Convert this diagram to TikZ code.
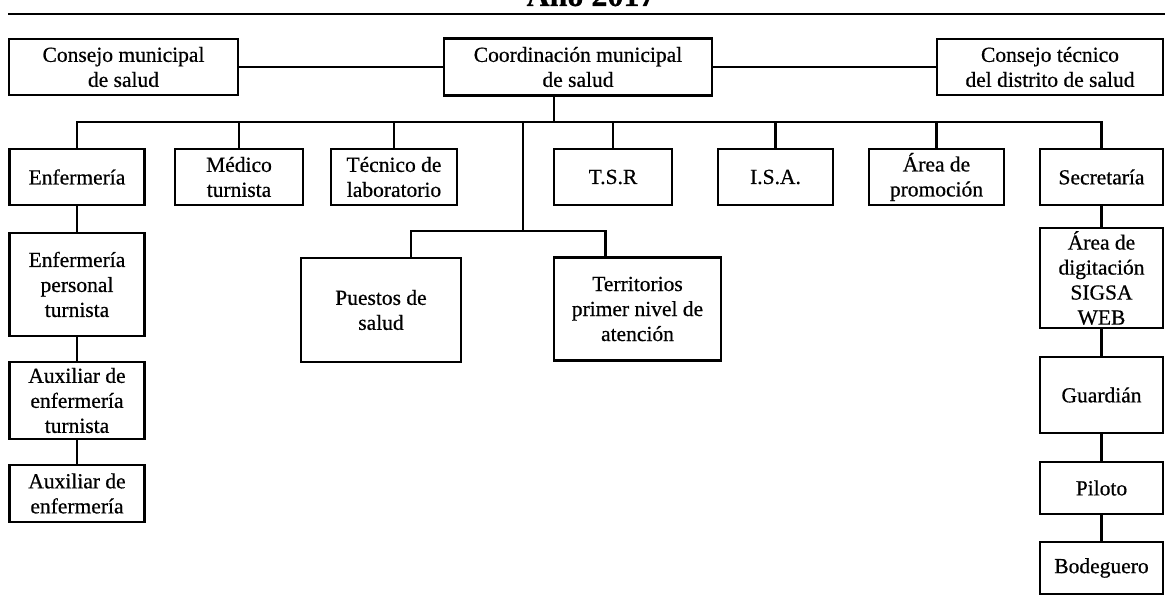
\documentclass[tikz,border=0pt]{standalone}
\usepackage{fontspec}
\setmainfont{Liberation Serif}[FakeBold=0.6]
\tikzset{
    caja/.style={draw, line width=2.8pt, align=center, inner sep=1pt, font=\fontsize{21.5}{25}\selectfont},
    linea/.style={line width=2.8pt}
}
\begin{document}
\begin{tikzpicture}[x=1pt,y=-1pt]
    \useasboundingbox (0,0) rectangle (1165,596);
    \clip (0,0) rectangle (1165,596);
    \node[anchor=base, inner sep=0pt, font=\bfseries\fontsize{32}{36}\selectfont] (titulo) at (591,6) {Año 2017};
    \draw[line width=1.8pt] (8,14) -- (1165,14);

    \node[caja, minimum width=229, minimum height=56] (cms) at (123.5,67) {Consejo municipal\\de salud};
    \node[caja, minimum width=268, minimum height=57] (cord) at (578,67) {Coordinación municipal\\de salud};
    \node[caja, minimum width=226, minimum height=56] (ctd) at (1050,67) {Consejo técnico\\del distrito de salud};
    \draw[linea] (cms) -- (cord);
    \draw[linea] (cord) -- (ctd);

    \coordinate (bus) at (554,122);
    \node[caja, minimum width=135, minimum height=56] (enf) at (77,177) {Enfermería};
    \node[caja, minimum width=128, minimum height=56] (med) at (239,177) {Médico\\turnista};
    \node[caja, minimum width=126, minimum height=56] (tec) at (394,177) {Técnico de\\laboratorio};
    \node[caja, minimum width=118, minimum height=56] (tsr) at (613,177) {T.S.R};
    \node[caja, minimum width=115, minimum height=56] (isa) at (775.5,177) {I.S.A.};
    \node[caja, minimum width=135, minimum height=56] (prom) at (936.5,177) {Área de\\promoción};
    \node[caja, minimum width=123, minimum height=56] (sec) at (1101.5,177) {Secretaría};
    \draw[linea] (cord.south -| bus) -- (bus);
    \draw[linea] (enf.north) -- (enf.north |- bus) -- (sec.north |- bus) -- (sec.north);
    \foreach \n in {med,tec,tsr,isa,prom}
        \draw[linea] (\n.north) -- (\n.north |- bus);

    \coordinate (hub) at (523,231);
    \node[caja, minimum width=160, minimum height=104] (pue) at (381,310) {Puestos de\\salud};
    \node[caja, minimum width=167, minimum height=103] (ter) at (637.5,309) {Territorios\\primer nivel de\\atención};
    \draw[linea] (hub |- bus) -- (hub);
    \draw[linea] ([xshift=30]pue.north) |- (hub) -| ([xshift=-32]ter.north);

    \node[caja, minimum width=135, minimum height=103] (enfp) at (77,284.5) {Enfermería\\personal\\turnista};
    \node[caja, minimum width=135, minimum height=77] (auxt) at (77,400.5) {Auxiliar de\\enfermería\\turnista};
    \node[caja, minimum width=135, minimum height=57] (aux) at (77,493.5) {Auxiliar de\\enfermería};
    \draw[linea] (enf) -- (enfp) -- (auxt) -- (aux);

    \node[caja, minimum width=123, minimum height=100] (dig) at (1101.5,278) {Área de\\digitación\\SIGSA\\WEB};
    \node[caja, minimum width=123, minimum height=76] (gua) at (1101.5,395) {Guardián};
    \node[caja, minimum width=123, minimum height=52] (pil) at (1101.5,488) {Piloto};
    \node[caja, minimum width=123, minimum height=52] (bod) at (1101.5,568) {Bodeguero};
    \draw[linea] (sec) -- (dig) -- (gua) -- (pil) -- (bod);
\end{tikzpicture}
\end{document}
